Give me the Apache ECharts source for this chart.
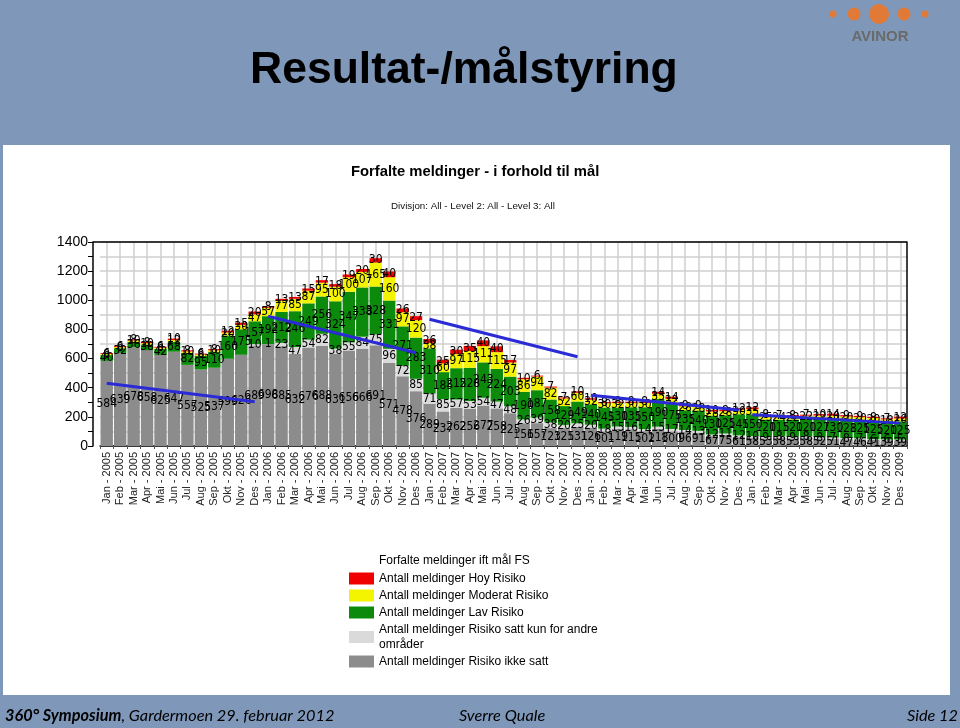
<!DOCTYPE html>
<html><head><meta charset="utf-8">
<script src="https://cdn.jsdelivr.net/npm/echarts@6/dist/echarts.min.js"></script>
<style>html,body{margin:0;padding:0;background:#7f98ba}#c{width:960px;height:728px}</style>
</head><body><div id="c"></div><script>
const months = ['Jan','Feb','Mar','Apr','Mai','Jun','Jul','Aug','Sep','Okt','Nov','Des'];
const years = [2005, 2006, 2007, 2008, 2009];
const categories = [];
years.forEach(y => months.forEach(m => categories.push(m + ' - ' + y)));

// Antall meldinger Risiko ikke satt (dark grey)
const ikkeSatt = [584,639,678,658,625,647,557,525,537,599,626,689,
  698,685,632,676,688,631,656,666,691,571,478,376,
  289,237,262,256,277,258,225,156,157,123,125,131,
  126,101,119,115,102,118,100,96,91,67,75,61,
  58,53,58,53,58,52,51,47,46,41,39,39];
// Antall meldinger Risiko satt kun for andre områder (light grey)
const kunAndre = [0,0,0,0,0,0,0,0,0,0,0,10,
  1,23,47,54,82,38,55,84,75,96,72,85,
  71,85,57,53,54,47,48,26,39,38,20,25,
  20,18,15,16,14,15,17,14,13,12,11,12,
  10,9,8,9,8,8,7,8,7,6,6,5];
// Antall meldinger Lav Risiko (green)
const lavRisiko = [40,32,36,38,42,68,82,95,110,160,175,157,
  192,212,246,249,256,324,347,338,328,331,271,283,
  310,185,215,228,243,224,203,190,187,158,129,149,
  140,145,130,135,150,190,175,135,140,130,125,145,
  150,120,115,120,120,127,130,128,125,125,120,125];
// Antall meldinger Moderat Risiko (yellow)
const moderatRisiko = [8,8,10,10,8,12,10,8,10,20,30,47,
  57,77,85,87,95,100,100,107,165,160,97,120,
  38,60,97,115,111,115,97,86,94,82,52,60,
  32,30,32,30,30,35,32,28,28,28,28,30,
  35,25,24,22,22,22,20,20,20,20,18,20];
// Antall meldinger Hoy Risiko (red)
const hoyRisiko = [6,6,8,8,6,10,8,6,8,12,15,20,
  8,13,13,15,17,18,19,20,30,40,26,27,
  26,25,30,35,40,40,17,10,6,7,7,10,
  10,8,8,8,8,14,14,8,9,10,8,12,
  12,8,7,8,7,10,14,9,9,8,7,12];

// Trend lines [category index, value]
const trendA = [[0, 430], [11, 303]];
const trendB = [[12, 890], [23, 640]];
const trendC = [[24, 870], [35, 612]];
const trendD = [[36, 349], [47, 247]];
const trendE = [[48, 215], [59, 157]];

const yTicks = [0, 200, 400, 600, 800, 1000, 1200, 1400];

const nHoy = 'Antall meldinger Hoy Risiko';
const nMod = 'Antall meldinger Moderat Risiko';
const nLav = 'Antall meldinger Lav Risiko';
const nAndre = 'Antall meldinger Risiko satt kun for andre\nområder';
const nIkke = 'Antall meldinger Risiko ikke satt';

const narrow = "'Liberation Sans Narrow', 'DejaVu Sans Condensed', sans-serif";
const sans = "'Liberation Sans', Arial, sans-serif";

function barSeries(name, data, color) {
  return {
    name, type: 'bar', stack: 'total', data,
    barCategoryGap: '8%',
    itemStyle: { color },
    label: {
      show: true, position: 'inside', color: '#000',
      fontFamily: narrow, fontSize: 12, textBorderWidth: 0,
      formatter: p => (p.value ? String(p.value) : '')
    },
    emphasis: { disabled: true }
  };
}
function trend(data) {
  return {
    type: 'line', data, symbol: 'none', silent: true, z: 5,
    lineStyle: { color: '#2a2ad6', width: 3 }
  };
}

const chart = echarts.init(document.getElementById('c'));
chart.setOption({
  backgroundColor: '#7f98ba',
  animation: false,
  title: [
    { text: 'Resultat-/målstyring', left: 250, top: 48, padding: 0,
      textStyle: { fontFamily: sans, fontWeight: 'bold', fontSize: 44.5, color: '#000' } },
    { text: 'Forfalte meldinger - i forhold til mål', left: 351, top: 164, padding: 0,
      textStyle: { fontFamily: sans, fontWeight: 'bold', fontSize: 14.8, color: '#000' } },
    { text: 'Divisjon: All - Level 2: All - Level 3: All', left: 391, top: 201, padding: 0,
      textStyle: { fontFamily: sans, fontWeight: 'normal', fontSize: 9.8, color: '#111' } },
    { text: 'Forfalte meldinger ift mål FS', left: 379, top: 555, padding: 0,
      textStyle: { fontFamily: sans, fontWeight: 'normal', fontSize: 12, color: '#000' } },
    { text: '{b|360° Symposium}{n|, Gardermoen 29. februar 2012}', left: 5, top: 708, padding: 0,
      textStyle: { rich: {
        b: { fontFamily: 'Lato', fontStyle: 'italic', fontWeight: 'bold', fontSize: 16.3, color: '#000' },
        n: { fontFamily: 'Lato', fontStyle: 'italic', fontWeight: 'normal', fontSize: 16.3, color: '#000' } } } },
    { text: 'Sverre Quale', left: 459, top: 708, padding: 0,
      textStyle: { fontFamily: 'Lato', fontStyle: 'italic', fontWeight: 'normal', fontSize: 16.3, color: '#000' } },
    { text: 'Side 12', right: 2, top: 708, padding: 0,
      textStyle: { fontFamily: 'Lato', fontStyle: 'italic', fontWeight: 'normal', fontSize: 16.3, color: '#000' } }
  ],
  graphic: [
    { type: 'rect', z: -100, shape: { x: 3, y: 145, width: 947, height: 550 }, style: { fill: '#ffffff' } },
    { type: 'line', z: 100, shape: { x1: 93, y1: 242, x2: 907, y2: 242 }, style: { stroke: '#000', lineWidth: 1.5 } },
    { type: 'circle', shape: { cx: 833, cy: 14, r: 3.5 }, style: { fill: '#e07a36' } },
    { type: 'circle', shape: { cx: 854, cy: 14, r: 6.5 }, style: { fill: '#e07a36' } },
    { type: 'circle', shape: { cx: 879, cy: 14, r: 10 }, style: { fill: '#e07a36' } },
    { type: 'circle', shape: { cx: 904, cy: 14, r: 6.5 }, style: { fill: '#e07a36' } },
    { type: 'circle', shape: { cx: 925, cy: 14, r: 3.5 }, style: { fill: '#e07a36' } },
    { type: 'text', x: 880, y: 37, style: { text: 'AVINOR', fill: '#6a6a6a', font: 'bold 15px ' + sans, align: 'center', verticalAlign: 'middle' } }
  ],
  legend: {
    orient: 'vertical', left: 349, top: 571, padding: 0,
    itemWidth: 25, itemHeight: 12, itemGap: 2, icon: 'rect',
    data: [nHoy, nMod, nLav, nAndre, nIkke],
    textStyle: { fontFamily: sans, fontSize: 12, color: '#000', lineHeight: 15 },
    selectedMode: false
  },
  grid: { left: 100, right: 53, top: 242, bottom: 282, containLabel: false },
  xAxis: {
    type: 'category', data: categories,
    axisLine: { lineStyle: { color: '#000', width: 1.5 } },
    axisTick: { show: true, length: 3, lineStyle: { color: '#555' } },
    axisLabel: { interval: 0, rotate: 90, fontFamily: sans, fontSize: 11, color: '#222', margin: 6 },
    splitLine: { show: true, interval: 0, alignWithLabel: true, lineStyle: { color: '#cfcfcf', width: 1.5 } }
  },
  yAxis: [{
    type: 'value', min: 0, max: 1400, interval: 100, offset: 7,
    axisLine: { show: true, lineStyle: { color: '#000', width: 1.5 } },
    axisTick: { show: true, length: 5, lineStyle: { color: '#000' } },
    axisLabel: { fontFamily: sans, fontSize: 14, color: '#000', margin: 5,
      formatter: v => (yTicks.indexOf(v) >= 0 ? String(v) : '') },
    splitLine: { show: true, lineStyle: { color: '#cfcfcf', width: 1.5 } }
  }, {
    type: 'value', min: 0, max: 1400, position: 'right',
    axisLine: { show: true, lineStyle: { color: '#000', width: 1.5 } },
    axisTick: { show: false }, axisLabel: { show: false }, splitLine: { show: false }
  }],
  series: [
    barSeries(nIkke, ikkeSatt, '#8c8c8c'),
    barSeries(nAndre, kunAndre, '#dadada'),
    barSeries(nLav, lavRisiko, '#0b8a0b'),
    barSeries(nMod, moderatRisiko, '#f4f400'),
    barSeries(nHoy, hoyRisiko, '#f00000'),
    trend(trendA), trend(trendB), trend(trendC), trend(trendD), trend(trendE)
  ]
});
</script></body></html>
